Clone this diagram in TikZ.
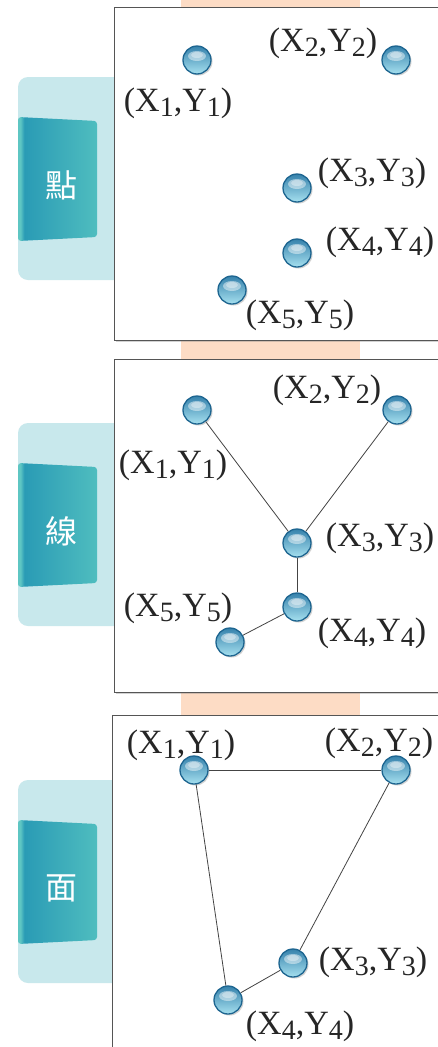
\documentclass[tikz,border=0pt]{standalone}
\usepackage{fontspec}
\setmainfont{Liberation Serif}
\newfontfamily\cjk{Noto Sans CJK TC}
\usetikzlibrary{shadows,calc}
\definecolor{orangestrip}{HTML}{FDDCC5}
\definecolor{lightpanel}{HTML}{C8E8EC}
\definecolor{tabLight}{HTML}{5EC6C3}
\definecolor{tabDark}{HTML}{2A9BB5}
\definecolor{tabRight}{HTML}{4FBDBF}
\definecolor{balledge}{HTML}{1D6590}
\definecolor{balltop}{HTML}{3682AC}
\definecolor{ballbot}{HTML}{A6E0EF}
\definecolor{boxedge}{HTML}{555555}
\definecolor{linecol}{HTML}{444444}
\pgfdeclarehorizontalshading{tabshade}{100bp}{color(0bp)=(tabLight); color(25bp)=(tabLight); color(26.5bp)=(tabLight); color(29bp)=(tabDark); color(75bp)=(tabRight); color(100bp)=(tabRight)}
\newcommand\sublow[1]{\raisebox{-5.5pt}{\fontsize{28}{28}\selectfont #1}}
\newcommand\XY[1]{(X\sublow{#1},Y\sublow{#1})}
\tikzset{
  panelbox/.style={draw=boxedge, line width=1pt, fill=white, drop shadow={opacity=0.35, shadow xshift=1pt, shadow yshift=-1.5pt}},
  ball/.style={circle, minimum size=28pt, inner sep=0pt, draw=balledge, line width=1.3pt, top color=balltop, bottom color=ballbot,
    drop shadow={opacity=0.35, shadow xshift=1.5pt, shadow yshift=-1.5pt},
    path picture={\fill[white,opacity=0.45] ($(path picture bounding box.center)+(0pt,4pt)$) ellipse (9pt and 5pt);
                  \fill[white,opacity=0.35] ($(path picture bounding box.center)+(0pt,5pt)$) ellipse (6pt and 3pt);}},
  lbl/.style={font=\fontsize{34}{34}\selectfont, inner sep=0pt, text=black!85},
  seg/.style={draw=linecol, line width=0.8pt},
  tabtext/.style={font=\cjk\fontsize{32}{32}\selectfont, text=white},
}
\begin{document}
\begin{tikzpicture}[x=1pt,y=-1pt]
\useasboundingbox (0,0) rectangle (438,1047);
\clip (0,0) rectangle (438,1047);
\fill[white] (0,0) rectangle (438,1047);
% orange strip
\fill[orangestrip] (181,0) rectangle (360,1047);
% side panels and tabs
\foreach \t/\ch [count=\i] in {77/點, 423/線, 780/面} {
  \fill[lightpanel, rounded corners=10pt] (18,\t) rectangle (150,\t+203);
  \shade[shading=tabshade, rounded corners=3pt] (18,\t+40) -- (97,\t+44) -- (97,\t+160) -- (18,\t+164) -- cycle;
  \node[tabtext] (tab\i) at (61,\t+108) {\ch};
}
% boxes
\path[panelbox] (114.5,7) rectangle (460,340);
\path[panelbox] (114.5,359) rectangle (460,692);
\path[panelbox] (112,715) rectangle (460,1080);
% panel 1: points
\node[ball] (a1) at (197,60) {};
\node[ball] (a2) at (396,60) {};
\node[ball] (a3) at (297,188) {};
\node[ball] (a4) at (297,253) {};
\node[ball] (a5) at (232,290) {};
\node[lbl] (la1) at (178,103) {\XY{1}};
\node[lbl] (la2) at (323,43) {\XY{2}};
\node[lbl] (la3) at (372,173) {\XY{3}};
\node[lbl] (la4) at (380,242) {\XY{4}};
\node[lbl] (la5) at (300,315) {\XY{5}};
% panel 2: lines
\node[ball] (b1) at (197,410) {};
\node[ball] (b2) at (397,410) {};
\node[ball] (b3) at (297,543) {};
\node[ball] (b4) at (297,607) {};
\node[ball] (b5) at (230,642) {};
\draw[seg] (b1) -- (b3);
\draw[seg] (b2) -- (b3);
\draw[seg] (b3) -- (b4);
\draw[seg] (b4) -- (b5);
\node[lbl] (lb1) at (173,465) {\XY{1}};
\node[lbl] (lb2) at (327,390) {\XY{2}};
\node[lbl] (lb3) at (380,538) {\XY{3}};
\node[lbl] (lb4) at (372,633) {\XY{4}};
\node[lbl] (lb5) at (178,608) {\XY{5}};
% panel 3: surface
\node[ball] (c1) at (194,770) {};
\node[ball] (c2) at (396,770) {};
\node[ball] (c3) at (293,963) {};
\node[ball] (c4) at (228,1000) {};
\draw[seg] (c1) -- (c2);
\draw[seg] (c2) -- (c3);
\draw[seg] (c3) -- (c4);
\draw[seg] (c4) -- (c1);
\node[lbl] (lc1) at (181,745) {\XY{1}};
\node[lbl] (lc2) at (379,743) {\XY{2}};
\node[lbl] (lc3) at (373,962) {\XY{3}};
\node[lbl] (lc4) at (300,1026) {\XY{4}};
\end{tikzpicture}
\end{document}
